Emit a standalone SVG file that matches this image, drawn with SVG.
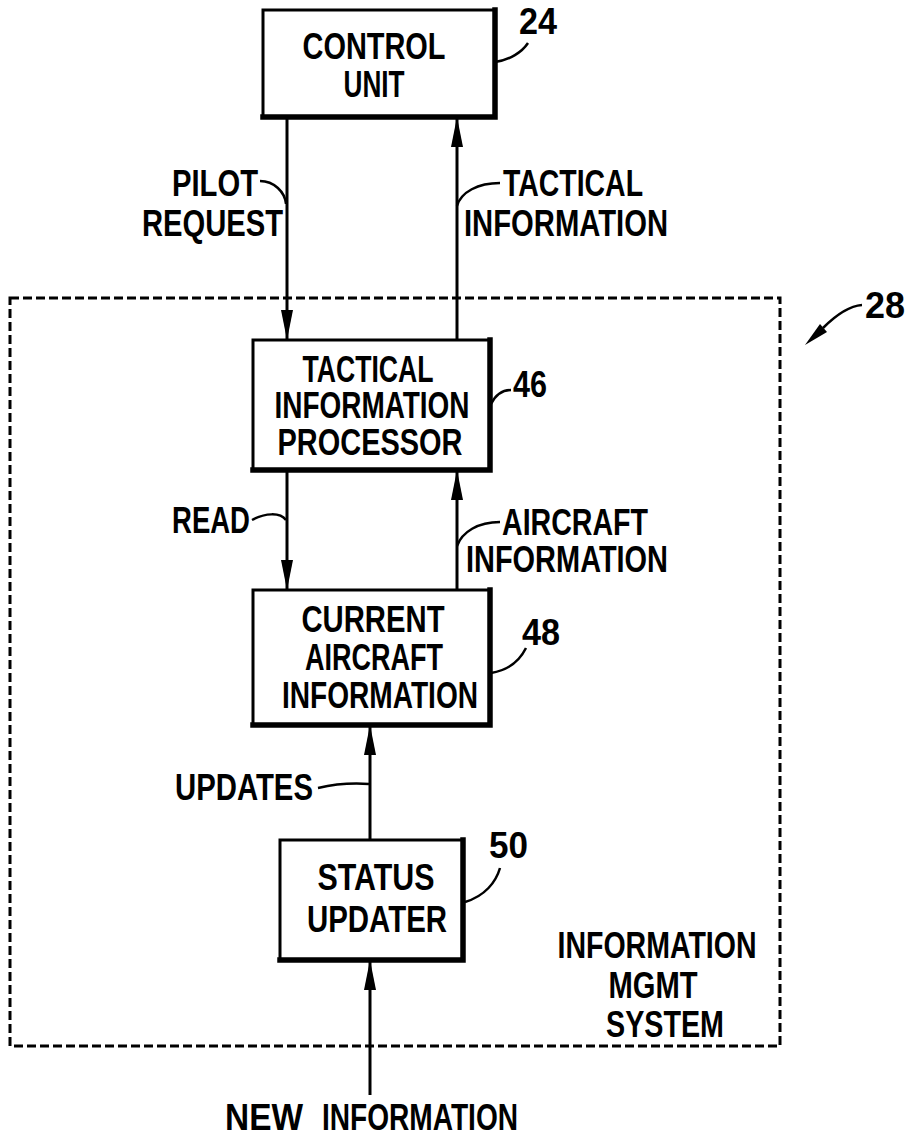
<svg xmlns="http://www.w3.org/2000/svg" width="912" height="1136" viewBox="0 0 912 1136">
<style>
  .box{fill:#fff;stroke:#000;stroke-width:3}
  .shadow{fill:none;stroke:#000;stroke-width:5.5;stroke-linecap:square}
  .line{fill:none;stroke:#000;stroke-width:3}
  .lead{fill:none;stroke:#000;stroke-width:2.5}
  .dash{fill:none;stroke:#000;stroke-width:3;stroke-dasharray:9 4}
  text{font-family:"Liberation Sans",Arial,sans-serif;font-size:36px;font-weight:bold;fill:#000}
  .c{text-anchor:middle}
</style>
<defs>
  <marker id="ah" markerUnits="userSpaceOnUse" markerWidth="32" markerHeight="14" refX="30" refY="6" orient="auto">
    <path d="M0,0 L30,6 L0,12 Z" fill="#000"/>
  </marker>
</defs>
<rect width="912" height="1136" fill="#fff"/>

<g id="system-boundary">
  <rect class="dash" x="10" y="298" width="770" height="748"/>
  <text class="c" x="657" y="958" textLength="199" lengthAdjust="spacingAndGlyphs">INFORMATION</text>
  <text class="c" x="653" y="998" textLength="89" lengthAdjust="spacingAndGlyphs">MGMT</text>
  <text class="c" x="665" y="1037" textLength="118" lengthAdjust="spacingAndGlyphs">SYSTEM</text>
  <text x="865" y="318" textLength="40" lengthAdjust="spacingAndGlyphs">28</text>
  <path class="lead" d="M862,305 C848,306 835,316 823,328"/>
  <polygon points="805,345 827,332 820,324"/>
</g>

<g id="connectors">
  <line class="line" x1="287" y1="117" x2="287" y2="340" marker-end="url(#ah)"/>
  <line class="line" x1="457" y1="340" x2="457" y2="117" marker-end="url(#ah)"/>
  <line class="line" x1="287" y1="470" x2="287" y2="590" marker-end="url(#ah)"/>
  <line class="line" x1="457" y1="590" x2="457" y2="470" marker-end="url(#ah)"/>
  <line class="line" x1="370" y1="840" x2="370" y2="725" marker-end="url(#ah)"/>
  <line class="line" x1="370" y1="1095" x2="370" y2="960" marker-end="url(#ah)"/>
  <path class="lead" d="M260,181 C274,181 285,192 286,204"/>
  <path class="lead" d="M500,183 C478,183 461,192 457,206"/>
  <path class="lead" d="M252,520 C265,513 280,512 286,520"/>
  <path class="lead" d="M500,522 C478,522 462,532 457,546"/>
  <path class="lead" d="M318,788 C335,784 355,783 369,784"/>
  <text x="172" y="196" textLength="86" lengthAdjust="spacingAndGlyphs">PILOT</text>
  <text x="142" y="236" textLength="141" lengthAdjust="spacingAndGlyphs">REQUEST</text>
  <text x="503" y="196" textLength="140" lengthAdjust="spacingAndGlyphs">TACTICAL</text>
  <text x="464" y="236" textLength="204" lengthAdjust="spacingAndGlyphs">INFORMATION</text>
  <text x="172" y="533" textLength="78" lengthAdjust="spacingAndGlyphs">READ</text>
  <text x="502" y="535" textLength="146" lengthAdjust="spacingAndGlyphs">AIRCRAFT</text>
  <text x="466" y="572" textLength="202" lengthAdjust="spacingAndGlyphs">INFORMATION</text>
  <text x="175" y="800" textLength="138" lengthAdjust="spacingAndGlyphs">UPDATES</text>
  <text x="225" y="1130" textLength="78" lengthAdjust="spacingAndGlyphs">NEW</text>
  <text x="322" y="1130" textLength="196" lengthAdjust="spacingAndGlyphs">INFORMATION</text>
</g>

<g id="control-unit">
  <rect class="box" x="263" y="10" width="232" height="107"/>
  <polyline class="shadow" points="495,10 495,117 263,117"/>
  <text class="c" x="374" y="59" textLength="143" lengthAdjust="spacingAndGlyphs">CONTROL</text>
  <text class="c" x="374" y="97" textLength="61" lengthAdjust="spacingAndGlyphs">UNIT</text>
  <path class="lead" d="M495,62 C510,60 522,52 528,43"/>
  <text x="519" y="34" textLength="38" lengthAdjust="spacingAndGlyphs">24</text>
</g>

<g id="tactical-information-processor">
  <rect class="box" x="253" y="340" width="237" height="130"/>
  <polyline class="shadow" points="490,340 490,470 253,470"/>
  <text class="c" x="368" y="382" textLength="131" lengthAdjust="spacingAndGlyphs">TACTICAL</text>
  <text class="c" x="372" y="418" textLength="195" lengthAdjust="spacingAndGlyphs">INFORMATION</text>
  <text class="c" x="370" y="455" textLength="185" lengthAdjust="spacingAndGlyphs">PROCESSOR</text>
  <path class="lead" d="M491,404 C496,394 502,390 511,390"/>
  <text x="513" y="397" textLength="34" lengthAdjust="spacingAndGlyphs">46</text>
</g>

<g id="current-aircraft-information">
  <rect class="box" x="253" y="590" width="237" height="135"/>
  <polyline class="shadow" points="490,590 490,725 253,725"/>
  <text class="c" x="373" y="632" textLength="143" lengthAdjust="spacingAndGlyphs">CURRENT</text>
  <text class="c" x="374" y="670" textLength="138" lengthAdjust="spacingAndGlyphs">AIRCRAFT</text>
  <text class="c" x="380" y="708" textLength="196" lengthAdjust="spacingAndGlyphs">INFORMATION</text>
  <path class="lead" d="M491,673 C510,670 520,660 526,648"/>
  <text x="522" y="645" textLength="38" lengthAdjust="spacingAndGlyphs">48</text>
</g>

<g id="status-updater">
  <rect class="box" x="280" y="840" width="183" height="120"/>
  <polyline class="shadow" points="463,840 463,960 280,960"/>
  <text class="c" x="376" y="890" textLength="117" lengthAdjust="spacingAndGlyphs">STATUS</text>
  <text class="c" x="377" y="932" textLength="140" lengthAdjust="spacingAndGlyphs">UPDATER</text>
  <path class="lead" d="M465,902 C485,896 496,882 500,868"/>
  <text x="489" y="858" textLength="39" lengthAdjust="spacingAndGlyphs">50</text>
</g>
</svg>
